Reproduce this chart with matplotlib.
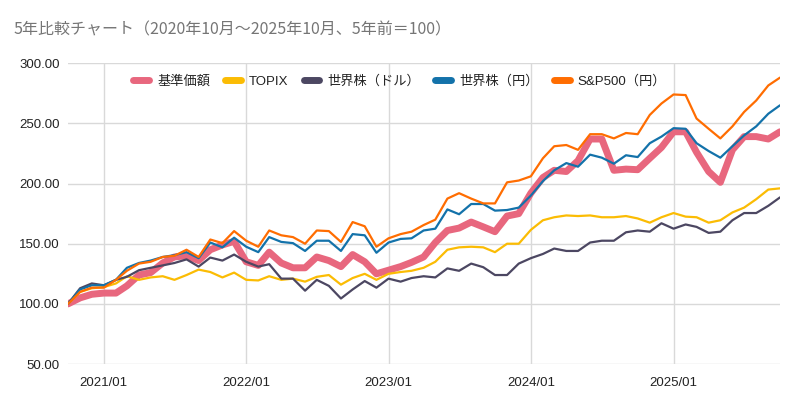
import matplotlib
matplotlib.use("Agg")
import matplotlib.pyplot as plt
import matplotlib.dates as mdates
import pandas as pd

plt.rcParams['font.family'] = ['Liberation Sans', 'Noto Sans CJK JP', 'DejaVu Sans']

# monthly, 2020/10 .. 2025/10 (5 years ago = 100)
months = pd.date_range("2020-10-01", "2025-10-01", freq="MS")

nav = [100, 105, 108, 109, 109, 115, 124, 126, 134, 139, 140, 136, 145, 149, 152,
       135, 132, 143, 134, 130, 130, 139, 136, 131, 141, 135, 125, 128, 131, 134.5,
       139, 151, 161, 163, 168, 164, 160, 173, 175, 192, 205, 211, 210, 219, 237,
       237, 211, 212, 211.5, 221, 230, 243, 243, 226, 210, 201, 228, 239, 239, 237, 243]
topix = [100, 110, 113, 114, 117, 123, 120, 122, 123, 120, 124, 128.5, 126.5, 122, 126,
         120, 119.5, 123, 120, 121, 118.5, 122.5, 124, 116, 121.5, 125, 120, 125, 126.5, 127.5,
         130, 135, 145, 147, 147.5, 147, 143, 150, 150, 161.5, 169.5, 172, 173.5, 173, 173.5,
         172, 172, 173, 171, 167.5, 172, 175.5, 172.5, 172, 167.5, 169.5, 176, 180, 187, 195, 196]
world_usd = [100, 113, 117, 115.5, 120, 122.5, 128, 130, 132, 134, 137, 131, 138.5, 136, 141,
             135, 131, 133, 121, 121, 111, 120, 115, 104.5, 112, 119, 113.5, 121, 118.5, 121.5,
             123, 122, 129.5, 127.5, 133.5, 130.5, 124, 124, 133.5, 138, 141.5, 146, 144, 144, 151,
             152.5, 152.5, 159.5, 161, 160, 167, 162.5, 166, 164, 159, 160, 169.5, 175.5, 175.5, 181.5, 188.5]
world_jpy = [100, 112, 115.5, 115.5, 120, 130, 134, 136, 139, 140.5, 143, 138, 151, 147, 155,
             147.5, 143, 155.5, 151.5, 150.5, 144, 152.5, 152.5, 144, 158, 157, 142.5, 151, 154, 154.5,
             161, 162.5, 178.5, 174.5, 183, 183, 177.5, 178, 180, 190, 202, 211, 217, 214, 224,
             221.5, 216.5, 223.5, 222, 233.5, 239, 246, 245.5, 233.5, 227, 221.5, 231, 240, 247.5, 258, 265]
sp500_jpy = [100, 110, 113.5, 113.5, 120, 127.5, 133.5, 135, 139, 140, 145, 139, 153.5, 150.5, 160.5,
             152.5, 147.5, 161, 157, 155.5, 150, 161, 160.5, 151.5, 168, 164.5, 147.5, 154.5, 158, 160,
             165.5, 170, 187.5, 192, 187.5, 183.5, 183.5, 201, 202.5, 206, 221, 231, 232, 228, 241,
             241, 237.5, 242, 241, 257, 266.5, 274, 273.5, 254, 245.5, 237.5, 247.5, 259.5, 269, 281.5, 288]

labels = ["基準価額", "TOPIX", "世界株（ドル）", "世界株（円）", "S&P500（円）"]
colors = ["#e8677e", "#fbbc04", "#4c4762", "#1372aa", "#ff6d01"]
widths = [5, 1.6, 1.6, 1.6, 1.6]
series = [nav, topix, world_usd, world_jpy, sp500_jpy]

fig = plt.figure(figsize=(8, 4.05), dpi=100)
ax = fig.add_axes([0.085, 0.101, 0.89, 0.743])

for vals, lab, col, lw in zip(series, labels, colors, widths):
    ax.plot(months, vals, color=col, lw=lw, label=lab, solid_joinstyle='round',
            solid_capstyle='round')

ax.set_ylim(50, 300)
ax.set_yticks([50, 100, 150, 200, 250, 300])
ax.yaxis.set_major_formatter(matplotlib.ticker.FuncFormatter(lambda v, p: f"{v:.2f}"))
ax.set_xlim(months[0], months[-1])
ax.xaxis.set_major_locator(mdates.MonthLocator(bymonth=1))
ax.xaxis.set_major_formatter(mdates.DateFormatter("%Y/%m"))

ax.grid(True, color="#d9d9d9", lw=1)
ax.set_axisbelow(True)
for s in ax.spines.values():
    s.set_visible(False)
ax.tick_params(length=0, labelsize=9.5, labelcolor="#222222", pad=6)
ax.tick_params(axis='x', pad=9)

leg = ax.legend(loc='upper left', bbox_to_anchor=(0.075, 1.0), ncol=5, frameon=False,
                fontsize=9.5, handlelength=1.2, handletextpad=0.6, columnspacing=1.15,
                labelcolor="#222222")
for h in leg.legend_handles:
    h.set_linewidth(5)
    h.set_solid_capstyle('round')

fig.text(0.017, 0.925, "5年比較チャート（2020年10月～2025年10月、5年前＝100）",
         fontsize=11.5, color="#757575", va='center', family=['Noto Sans CJK JP', 'DejaVu Sans'])

fig.savefig("out.png", dpi=100)
